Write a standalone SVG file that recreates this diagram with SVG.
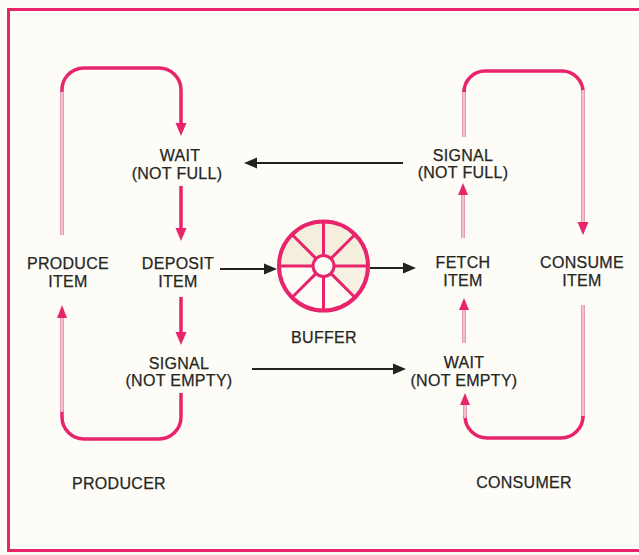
<svg xmlns="http://www.w3.org/2000/svg" width="639" height="555" viewBox="0 0 639 555">
<style>
text{font-family:"Liberation Sans",Arial,sans-serif;font-size:16px;fill:#26261f;stroke:#26261f;stroke-width:0.25;text-anchor:middle;letter-spacing:0.3px}
.solid{fill:none;stroke:#e8246c;stroke-width:3.5}
.dblo{fill:none;stroke:#e27fa2;stroke-width:3.6}
.dbli{fill:none;stroke:#fbeef2;stroke-width:1.2}
.ph{fill:#e8246c}
.blk{stroke:#222;stroke-width:2;fill:none}
.bh{fill:#222}
.wheel{fill:none;stroke:#e8246c}
</style>
<rect x="0" y="0" width="639" height="555" fill="#fdfcf6"/>
<path d="M8.5,552 V9.5 H645" fill="none" stroke="#e8246c" stroke-width="3"/>
<line x1="8" y1="550.5" x2="639" y2="550.5" stroke="#e8246c" stroke-width="3"/>

<g id="connectors">
  <!-- producer top loop -->
  <path class="dblo" d="M62,235 V92"/><path class="dbli" d="M62,235 V92"/>
  <path class="solid" d="M62,92 A22,22 0 0 1 84,68 H159 A22,22 0 0 1 181,90 V126"/>
  <polygon class="ph" points="175.5,123 186.5,123 181,136"/>
  <!-- wait -> deposit -->
  <path class="solid" d="M181,186 V230"/>
  <polygon class="ph" points="175.5,228 186.5,228 181,241"/>
  <!-- deposit -> signal -->
  <path class="solid" d="M181,297 V334"/>
  <polygon class="ph" points="175.5,332 186.5,332 181,345"/>
  <!-- producer bottom loop -->
  <path class="solid" d="M181,393 V417 A22,22 0 0 1 159,439 H84 A22,22 0 0 1 62,417 V410"/>
  <path class="dblo" d="M62,412 V316"/><path class="dbli" d="M62,412 V316"/>
  <polygon class="ph" points="57,318 67,318 62,305"/>

  <!-- consumer top loop -->
  <path class="dblo" d="M464,137 V90"/><path class="dbli" d="M464,137 V90"/>
  <path class="solid" d="M464,92 A21,21 0 0 1 485,71 H562 A21,21 0 0 1 583,92"/>
  <path class="dblo" d="M583,90 V225"/><path class="dbli" d="M583,90 V225"/>
  <polygon class="ph" points="577.5,222 588.5,222 583,235"/>
  <!-- fetch -> signal not full -->
  <path class="dblo" d="M463,238 V193"/><path class="dbli" d="M463,238 V193"/>
  <polygon class="ph" points="458,195 468,195 463,183"/>
  <!-- wait not empty -> fetch -->
  <path class="dblo" d="M464,343 V308"/><path class="dbli" d="M464,343 V308"/>
  <polygon class="ph" points="459,310 469,310 464,298"/>
  <!-- consumer bottom loop -->
  <path class="dblo" d="M583,305 V418"/><path class="dbli" d="M583,305 V418"/>
  <path class="solid" d="M583,416 A22,22 0 0 1 561,438 H487 A22,22 0 0 1 465,416"/>
  <path class="dblo" d="M465,418 V403"/><path class="dbli" d="M465,418 V403"/>
  <polygon class="ph" points="460,405 470,405 465,393"/>

  <!-- black arrows -->
  <line class="blk" x1="403" y1="163" x2="255" y2="163"/>
  <polygon class="bh" points="257,157.5 257,168.5 244,163"/>
  <line class="blk" x1="220" y1="269" x2="266" y2="269"/>
  <polygon class="bh" points="264,263.5 264,274.5 277,269"/>
  <line class="blk" x1="370" y1="268" x2="405" y2="268"/>
  <polygon class="bh" points="403,262.5 403,273.5 416,268"/>
  <line class="blk" x1="252" y1="369" x2="395" y2="369"/>
  <polygon class="bh" points="393,363.5 393,374.5 406,369"/>
</g>

<g id="buffer">
  <path d="M323.5,266 L279,266 A44.5,44.5 0 0 1 368,266 Z" fill="#f4eedc"/>
  <path d="M323.5,266 L368,266 A44.5,44.5 0 0 1 355,297.5 Z" fill="#f6f1e3"/>
  <circle cx="323.5" cy="266" r="44.5" class="wheel" stroke-width="4"/>
  <g class="wheel" stroke-width="3">
    <line x1="333.5" y1="266" x2="368" y2="266"/>
    <line x1="313.5" y1="266" x2="279" y2="266"/>
    <line x1="323.5" y1="256" x2="323.5" y2="221.5"/>
    <line x1="323.5" y1="276" x2="323.5" y2="310.5"/>
    <line x1="330.6" y1="258.9" x2="355" y2="234.5"/>
    <line x1="316.4" y1="258.9" x2="292" y2="234.5"/>
    <line x1="330.6" y1="273.1" x2="355" y2="297.5"/>
    <line x1="316.4" y1="273.1" x2="292" y2="297.5"/>
  </g>
  <circle cx="323.5" cy="266" r="10.5" fill="#fdfcf6" stroke="#e8246c" stroke-width="3"/>
  <text x="324" y="343">BUFFER</text>
</g>

<g id="wait-not-full"><text x="180" y="161">WAIT</text><text x="177" y="179">(NOT FULL)</text></g>
<g id="produce-item"><text x="68" y="269">PRODUCE</text><text x="68" y="287">ITEM</text></g>
<g id="deposit-item"><text x="178" y="269">DEPOSIT</text><text x="178" y="287">ITEM</text></g>
<g id="signal-not-empty"><text x="179" y="369">SIGNAL</text><text x="179" y="386">(NOT EMPTY)</text></g>
<g id="signal-not-full"><text x="463" y="161">SIGNAL</text><text x="463" y="178">(NOT FULL)</text></g>
<g id="fetch-item"><text x="463" y="268">FETCH</text><text x="463" y="286">ITEM</text></g>
<g id="consume-item"><text x="582" y="268">CONSUME</text><text x="582" y="286">ITEM</text></g>
<g id="wait-not-empty"><text x="464" y="368">WAIT</text><text x="464" y="386">(NOT EMPTY)</text></g>
<g id="producer"><text x="119" y="489">PRODUCER</text></g>
<g id="consumer"><text x="524" y="488">CONSUMER</text></g>
</svg>
